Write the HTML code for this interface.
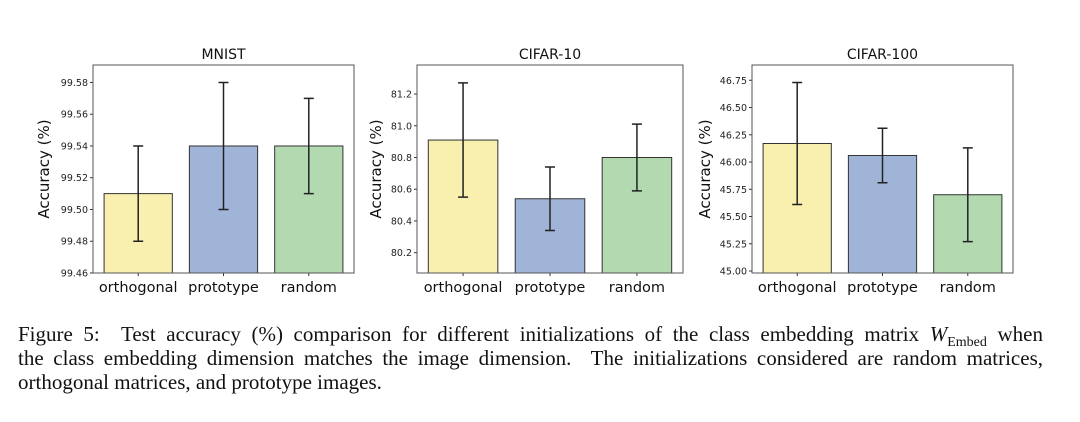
<!DOCTYPE html>
<html><head><meta charset="utf-8"><style>
body{margin:0;background:#fff;width:1080px;height:422px;overflow:hidden;position:relative}
#cap{position:absolute;left:18px;top:322px;width:1025px;font-family:"Liberation Serif",serif;font-size:21px;line-height:24px;color:#111}
#cap .j{text-align:justify;text-align-last:justify;white-space:nowrap;height:24px}
#cap .j2{text-align:justify;text-align-last:justify;height:24px}
</style></head><body>
<svg id="chart" width="1080" height="310" style="position:absolute;left:0;top:0" font-family="DejaVu Sans, Liberation Sans, sans-serif"></svg>
<div id="cap"><div class="j2">Figure 5: &nbsp;Test accuracy (%) comparison for different initializations of the class embedding matrix <i>W</i><sub style="font-size:14px;line-height:0">Embed</sub> when</div><div class="j2">the class embedding dimension matches the image dimension. &nbsp;The initializations considered are random matrices,</div><div>orthogonal matrices, and prototype images.</div></div>
<script>
const categories=["orthogonal","prototype","random"];
const titles=["MNIST","CIFAR-10","CIFAR-100"];
const mnistVals=[99.51,99.54,99.54];
const mnistErr=[0.03,0.04,0.03];
const cifar10Vals=[80.91,80.54,80.80];
const cifar10Err=[0.36,0.20,0.21];
const cifar100Vals=[46.17,46.06,45.70];
const cifar100Err=[0.56,0.25,0.43];
const mnistTicks=["99.46","99.48","99.50","99.52","99.54","99.56","99.58"];
const cifar10Ticks=["80.2","80.4","80.6","80.8","81.0","81.2"];
const cifar100Ticks=["45.00","45.25","45.50","45.75","46.00","46.25","46.50","46.75"];
const ns="http://www.w3.org/2000/svg";
const svg=document.getElementById('chart');
const colors=["#f9f0b0","#a0b4d8","#b2d9b0"];
function mk(t,a,p){const e=document.createElementNS(ns,t);for(const k in a)e.setAttribute(k,a[k]);(p||svg).appendChild(e);return e;}
const panels=[
 {L:93,R:354,ymin:99.46,ymax:99.591,vals:mnistVals,err:mnistErr,ticks:mnistTicks,name:"mnist",ylab:49},
 {L:417,R:683,ymin:80.072,ymax:81.383,vals:cifar10Vals,err:cifar10Err,ticks:cifar10Ticks,name:"cifar10",ylab:381},
 {L:752,R:1013,ymin:44.982,ymax:46.89,vals:cifar100Vals,err:cifar100Err,ticks:cifar100Ticks,name:"cifar100",ylab:710}
];
const T=65,B=273;
panels.forEach((p,pi)=>{
 const g=mk('g',{});
 
 
 const y=v=>B-(v-p.ymin)/(p.ymax-p.ymin)*(B-T);
 const W=p.R-p.L, step=W/3.06, bw=step*0.8;
 const x=i=>p.L+W/2+(i-1)*step;
 p.vals.forEach((v,i)=>{
  const r=mk('rect',{x:x(i)-bw/2,y:y(v),width:bw,height:B-y(v),fill:colors[i],stroke:"#333",'stroke-width':1},g);
  
  
  const lo=y(v-p.err[i]),hi=y(v+p.err[i]);
  const e=mk('path',{d:`M${x(i)},${lo}V${hi}M${x(i)-5},${lo}H${x(i)+5}M${x(i)-5},${hi}H${x(i)+5}`,stroke:"#222",'stroke-width':1.5,fill:"none"},g);
  
  
  const t=mk('text',{x:x(i),y:292,'text-anchor':'middle','font-size':14.5,fill:'#111'},g);
  t.textContent=categories[i];
  
  
  mk('line',{x1:x(i),x2:x(i),y1:B,y2:B+3,stroke:'#333'},g);
 });
 p.ticks.forEach(s=>{
  const v=parseFloat(s),yy=y(v);
  mk('line',{x1:p.L-3,x2:p.L,y1:yy,y2:yy,stroke:'#333'},g);
  const t=mk('text',{x:p.L-5,y:yy+3.5,'text-anchor':'end','font-size':9.5,fill:'#222'},g);
  t.textContent=s;
  
  
 });
 const fr=mk('rect',{x:p.L,y:T,width:W,height:B-T,fill:'none',stroke:'#555','stroke-width':1},g);
 
 
 const ti=mk('text',{x:(p.L+p.R)/2,y:59,'text-anchor':'middle','font-size':14,fill:'#111'},g);
 ti.textContent=titles[pi];
 
 
 const yl=mk('text',{x:0,y:0,'text-anchor':'middle','font-size':15,fill:'#111',transform:`translate(${p.ylab},${(T+B)/2}) rotate(-90)`},g);
 yl.textContent="Accuracy (%)";
 
 
});
</script>
</body></html>
